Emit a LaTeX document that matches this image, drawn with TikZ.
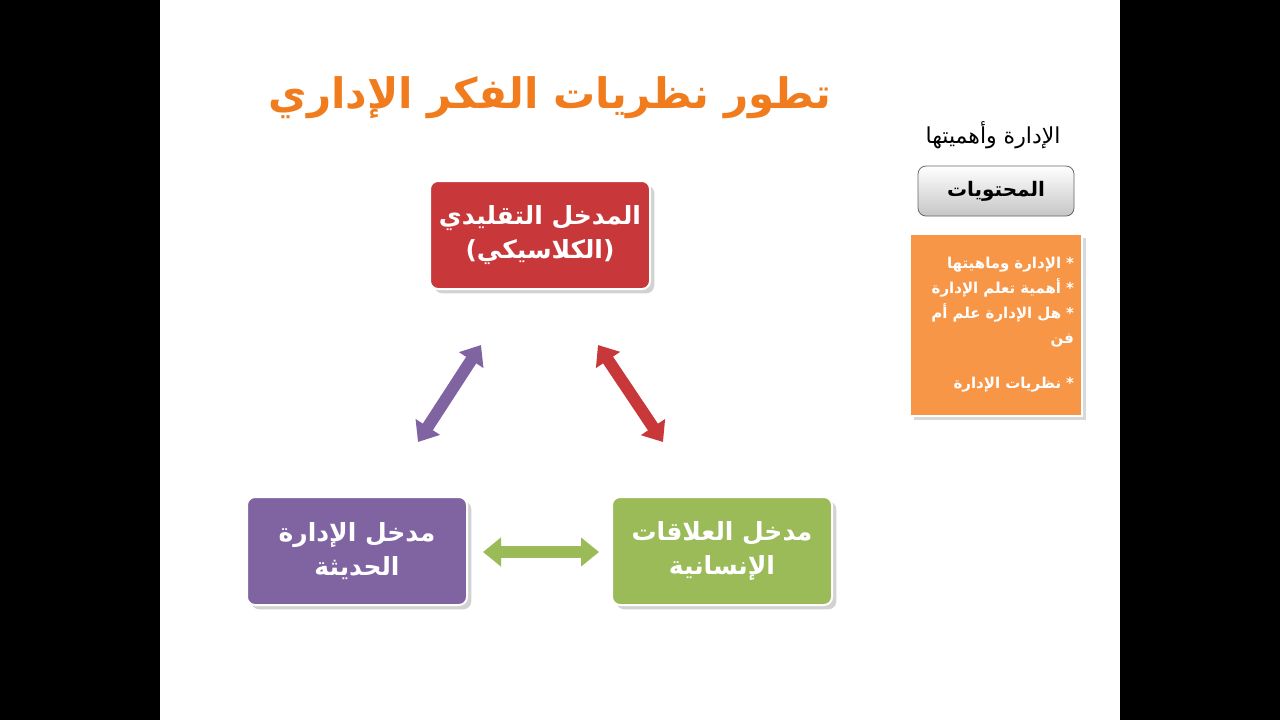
\documentclass[tikz,border=0pt]{standalone}
\usepackage{fontspec}
\newfontfamily\arabicfont[Script=Arabic]{DejaVu Sans}
\TeXXeTstate=1
\usetikzlibrary{arrows.meta,shadows}
\definecolor{redb}{HTML}{C8383A}
\definecolor{purb}{HTML}{8064A2}
\definecolor{greb}{HTML}{9BBB59}
\definecolor{orb}{HTML}{F79646}
\definecolor{ttl}{HTML}{F07C1E}
\tikzset{
 mainbox/.style={draw=white,line width=1pt,rounded corners=4pt,minimum width=110pt,minimum height=54pt,text=white,font=\arabicfont\bfseries\fontsize{12.5}{17}\selectfont,align=center,drop shadow={opacity=0.35}},
 barrow/.style={line width=6pt,{Triangle[length=9pt,width=14pt]}-{Triangle[length=9pt,width=14pt]},shorten <=0pt,shorten >=0pt}
}
\begin{document}
\begin{tikzpicture}[x=0.5pt,y=-0.5pt]
\useasboundingbox (0,0) rectangle (1280,720);
\fill[black] (0,0) rectangle (1280,720);
\fill[white] (160,0) rectangle (1120,720);
\node[text=ttl,font=\arabicfont\bfseries\fontsize{21}{24}\selectfont] (title) at (550,98) {\beginR تطور نظريات الفكر الإداري\endR};
\node[mainbox,fill=redb] (cl) at (540,235) {\beginR المدخل التقليدي\endR\\\beginR (الكلاسيكي)\endR};
\node[mainbox,fill=purb] (md) at (357,551) {\beginR مدخل الإدارة\endR\\\beginR الحديثة\endR};
\node[mainbox,fill=greb] (hr) at (722,551) {\beginR مدخل العلاقات\endR\\\beginR الإنسانية\endR};
\coordinate (p1) at (418,442); \coordinate (p2) at (481,345);
\coordinate (r1) at (598,345); \coordinate (r2) at (663,442);
\coordinate (g1) at (483,552); \coordinate (g2) at (599,552);
\draw[barrow,purb] (p1) -- (p2);
\draw[barrow,redb] (r1) -- (r2);
\draw[barrow,greb] (g1) -- (g2);
\node[font=\arabicfont\fontsize{11}{13}\selectfont] (sub) at (993,135) {\beginR الإدارة وأهميتها\endR};
\node[draw=gray!80!black,rounded corners=4pt,top color=white,bottom color=gray!45,minimum width=78pt,minimum height=25pt,font=\arabicfont\bfseries\fontsize{10}{12}\selectfont] (cont) at (996,191) {\beginR المحتويات\endR};
\node[fill=orb,draw=white,line width=1pt,drop shadow={opacity=0.3},minimum width=86pt,minimum height=91pt,text=white,font=\arabicfont\bfseries\fontsize{7.5}{12.5}\selectfont,align=right,anchor=north east,text width=78pt,inner sep=4pt] (list) at (1083,233) {\beginR * الإدارة وماهيتها\endR\\\beginR * أهمية تعلم الإدارة\endR\\\beginR * هل الإدارة علم أم\endR\\\beginR فن\endR\\[10pt]\beginR * نظريات الإدارة\endR};
\end{tikzpicture}
\end{document}
